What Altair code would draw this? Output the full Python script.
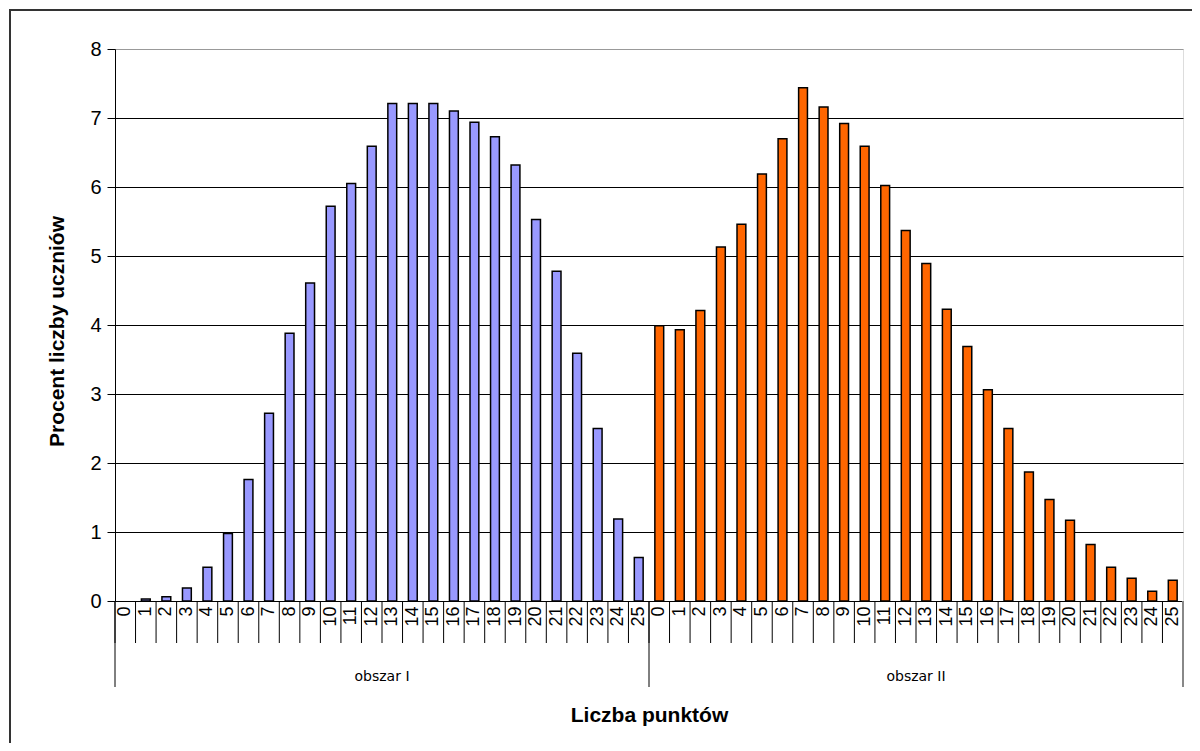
import altair as alt
import pandas as pd

# --- data ---------------------------------------------------------------
points = [str(i) for i in range(26)]
groups = ["obszar I", "obszar II"]
group_codes = ["I", "II"]
obszar1 = [0.0, 0.03, 0.06, 0.19, 0.49, 0.98, 1.76, 2.72, 3.88, 4.61, 5.72, 6.05, 6.59,
           7.21, 7.21, 7.21, 7.10, 6.94, 6.73, 6.32, 5.53, 4.78, 3.59, 2.50, 1.19, 0.63]
obszar2 = [3.99, 3.93, 4.21, 5.13, 5.46, 6.19, 6.70, 7.44, 7.16, 6.92, 6.59, 6.02, 5.37,
           4.89, 4.23, 3.69, 3.06, 2.50, 1.87, 1.47, 1.17, 0.82, 0.49, 0.33, 0.14, 0.30]
colors = ["#9999FF", "#FF6600"]

rows = []
for g, code, vals in zip(groups, group_codes, [obszar1, obszar2]):
    for p, v in zip(points, vals):
        rows.append({"key": f"{code}-{p}", "punkty": p, "obszar": g, "procent": v})
df = pd.DataFrame(rows)
keys = list(df["key"])

W, H = 1068, 552

x_enc = alt.X(
    "key:N", sort=keys,
    scale=alt.Scale(paddingInner=0, paddingOuter=0),
    axis=alt.Axis(
        title="Liczba punktów", titleFont="Liberation Sans", titleFontSize=21,
        titleFontWeight="bold", titleColor="black", titleY=114, titleX=W / 2,
        titleBaseline="middle", titleAlign="center",
        labelExpr="split(datum.value, '-')[1]", labelAngle=270,
        labelFont="Liberation Sans", labelFontSize=18, labelColor="black",
        labelPadding=5, ticks=False, tickSize=0,
        domainColor="black", labelOverlap=False, grid=False,
    ),
)

bars = alt.Chart(df).mark_bar(
    width=alt.RelativeBandSize(0.43), stroke="black", strokeWidth=1.5
).encode(
    x=x_enc,
    y=alt.Y(
        "procent:Q",
        scale=alt.Scale(domain=[0, 8], nice=False),
        axis=alt.Axis(
            title="Procent liczby uczniów", titleFont="Liberation Sans",
            titleFontSize=21, titleFontWeight="bold", titleColor="black",
            titleX=-58, titleY=H / 2 + 6, titleBaseline="middle", titleAlign="center",
            titleAngle=270,
            values=list(range(9)), labelFont="Liberation Sans", labelFontSize=20,
            labelColor="black", labelPadding=6, tickSize=8, tickColor="black",
            domainColor="black", gridWidth=1,
            gridColor=alt.condition("datum.value >= 8", alt.value("#999999"), alt.value("black")),
        ),
    ),
    color=alt.Color("obszar:N", scale=alt.Scale(domain=groups, range=colors), legend=None),
    strokeOpacity=alt.condition("datum.procent > 0", alt.value(1), alt.value(0)),
)

# category separators under the axis (left edge of every category slot)
cat_seps = alt.Chart(df).mark_rule(color="black", strokeWidth=1).encode(
    x=alt.X("key:N", sort=keys, bandPosition=0),
    y=alt.value(H), y2=alt.value(H + 42),
)

# group separators below the axis
sep_df = pd.DataFrame({"key": [f"{c}-{points[0]}" for c in group_codes]})
seps = alt.Chart(sep_df).mark_rule(color="black", strokeWidth=1).encode(
    x=alt.X("key:N", sort=keys, bandPosition=0),
    y=alt.value(H), y2=alt.value(H + 86),
)
end_df = pd.DataFrame({"key": [f"{group_codes[-1]}-{points[-1]}"]})
end_sep = alt.Chart(end_df).mark_rule(color="#888888", strokeWidth=2).encode(
    x=alt.X("key:N", sort=keys, bandPosition=1),
    y=alt.value(H), y2=alt.value(H + 86),
)

# group labels
lab_df = pd.DataFrame({"key": [f"{c}-12" for c in group_codes], "label": groups})
labels = alt.Chart(lab_df).mark_text(
    font="DejaVu Sans", fontSize=14, color="black", baseline="middle", align="center"
).encode(
    x=alt.X("key:N", sort=keys, bandPosition=1),
    y=alt.value(H + 76),
    text="label:N",
)

# outer chart frame (left and top edges; the rest lies outside the picture)
one = pd.DataFrame({"a": [0]})
frame_left = alt.Chart(one).mark_rule(color="#333333", strokeWidth=2).encode(
    x=alt.value(-105), y=alt.value(-40), y2=alt.value(H + 300),
)
frame_top = alt.Chart(one).mark_rule(color="#333333", strokeWidth=2).encode(
    x=alt.value(-106), x2=alt.value(W + 60), y=alt.value(-39),
)

chart = alt.layer(frame_left, frame_top, bars, cat_seps, seps, end_sep, labels).properties(
    width=W, height=H,
    autosize=alt.AutoSizeParams(type="none"),
    padding={"left": 107, "top": 41, "right": 9, "bottom": 142},
).configure_view(
    stroke="#999999", strokeWidth=1.5
).configure(background="white")

chart.save("out.html", embed_options={"renderer": "svg", "actions": False})
